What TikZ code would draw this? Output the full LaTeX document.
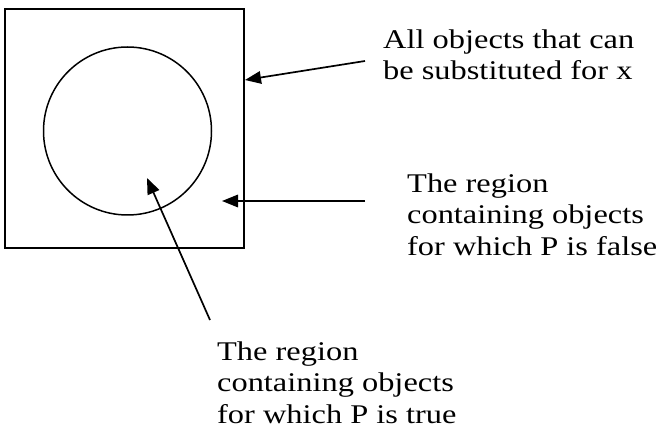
\documentclass[tikz,border=0pt]{standalone}
\usepackage{fontspec}
\setmainfont{Liberation Serif}
\newfontfamily\notefont[FakeStretch=1.2]{Liberation Serif}
\usepackage{tikz}
\usetikzlibrary{arrows.meta,positioning,calc}

\begin{document}
\begin{tikzpicture}[x=1pt, y=-1pt, >={Triangle[length=16pt,width=12.5pt]}]
        \tikzset{
            region/.style={draw, rectangle, minimum size=239pt, inner sep=0pt, line width=2pt},
            truth/.style={draw, circle, minimum size=168pt, inner sep=0pt, line width=1.5pt},
            note/.style={align=left, anchor=north west, inner sep=0pt, font=\notefont\fontsize{27}{31.5}\selectfont},
            pointer/.style={->, line width=1.7pt}
        }
        \useasboundingbox (0,0) rectangle (658,435);

        % Nodes
        \node [region] (universe) at (124.5,128.5) {};
        \node [truth] (ptrue) at (127.5,131) {};
        \node [note] (lbl_all) at (383,29.5) {All objects that can\\be substituted for x};
        \node [note] (lbl_false) at (407,173.5) {The region\\containing objects\\for which P is false};
        \node [note] (lbl_true) at (217,341.5) {The region\\containing objects\\for which P is true};

        % Free ends of the pointers
        \coordinate (a1_start) at (365,61);
        \coordinate (a2_start) at (365,201);
        \coordinate (a2_tip) at (222,201);
        \coordinate (a3_start) at (210,320);
        \coordinate (a3_tip) at (147,178);

        % Connections
        \draw [pointer] (a1_start) -- ([yshift=48.5pt]universe.east);
        \draw [pointer] (a2_start) -- (a2_tip);
        \draw [pointer] (a3_start) -- (a3_tip);
    \end{tikzpicture}
\end{document}
